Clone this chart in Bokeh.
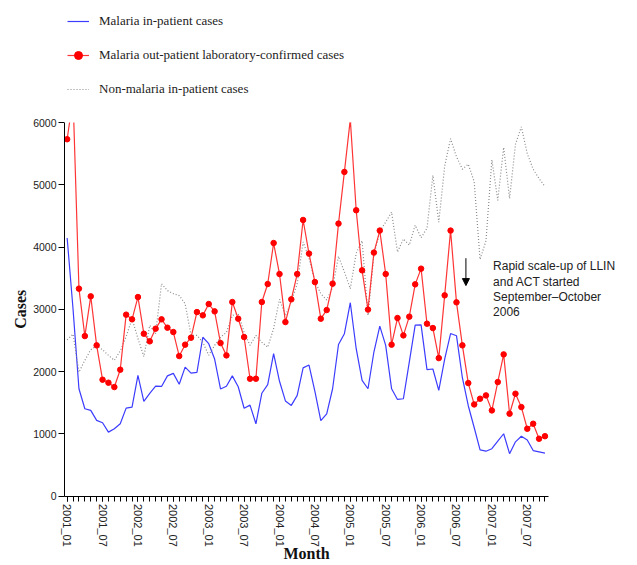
import math
from bokeh.plotting import figure
from bokeh.models import (Range1d, FixedTicker, Legend, LegendItem, Arrow,
                          NormalHead, Label, BoxAnnotation)
from bokeh.embed import file_html
from bokeh.resources import INLINE

# Month categories, 2001_01 .. 2007_10
months = [f"{y}_{m:02d}" for y in range(2001, 2008) for m in range(1, 13)][:82]

# Malaria in-patient cases
inpatient = [
    4145, 3000, 1723, 1401, 1375, 1214, 1176, 1026, 1080, 1160,
    1412, 1428, 1937, 1519, 1650, 1765, 1760, 1930, 1970, 1795,
    2071, 1975, 1985, 2550, 2447, 2200, 1720, 1763, 1930, 1755,
    1410, 1460, 1160, 1650, 1790, 2286, 1843, 1527, 1455, 1616,
    2058, 2104, 1680, 1210, 1321, 1723, 2434, 2607, 3105, 2366,
    1857, 1723, 2313, 2730, 2420, 1723, 1551, 1562, 2152, 2745,
    2750, 2030, 2040, 1696, 2200, 2610, 2575, 1900, 1450, 1100,
    740, 720, 760, 880, 1000, 680, 870, 960, 900, 730,
    710, 690,
]

# Malaria out-patient laboratory-confirmed cases
outpatient = [
    5731, 6400, 3331, 2569, 3207, 2420, 1868, 1820, 1750, 2029,
    2913, 2838, 3196, 2607, 2484, 2688, 2838, 2704, 2634, 2248,
    2431, 2543, 2955, 2902, 3084, 2966, 2457, 2259, 3116, 2848,
    2553, 1884, 1884, 3116, 3405, 4064, 3566, 2794, 3159, 3566,
    4434, 3894, 3437, 2848, 2987, 3411, 4376, 5206, 6050, 4590,
    3625, 2994, 3910, 4264, 3566, 2431, 2859, 2580, 2881, 3400,
    3652, 2768, 2698, 2215, 3223, 4264, 3111, 2420, 1814, 1471,
    1563, 1616, 1375, 1830, 2275, 1322, 1643, 1428, 1080, 1161,
    920, 961,
]

# Non-malaria in-patient cases
nonmalaria = [
    2510, 2600, 1990, 2180, 2350, 2410, 2350, 2260, 2180, 2330,
    2560, 2850, 2530, 2240, 2740, 2610, 3410, 3300, 3250, 3220,
    3090, 2580, 2580, 2470, 2260, 2420, 2550, 2630, 2900, 2930,
    2630, 2420, 2580, 2470, 2390, 2690, 3160, 2900, 3120, 3410,
    4080, 3820, 3450, 3250, 3150, 3350, 3850, 3600, 3330, 3900,
    4100, 2900, 3870, 4250, 4400, 4560, 3920, 4130, 4030, 4350,
    4150, 4300, 5150, 4400, 5300, 5740, 5450, 5250, 5330, 5050,
    3800, 4100, 5400, 4750, 5600, 4780, 5650, 5930, 5500, 5250,
    5100, 4970,
]

y_ticks = [0, 1000, 2000, 3000, 4000, 5000, 6000]
y_max = 6000

x = list(range(len(months)))

# Geometry of the plotting area (pixels) inside the 637x565 canvas
W, H = 637, 565
ax_left, ax_right = 64, 548        # x-axis extent
ax_top, ax_bottom = 122, 495.5     # y-axis extent (6000 .. 0)
x_lo, x_hi = -0.45, len(months) - 0.4
px_per_month = (ax_right - ax_left) / (x_hi - x_lo)
px_per_unit = (ax_bottom - ax_top) / y_max

# The frame spans the whole canvas; axes are pinned at the data origin
x_range = Range1d(x_lo - ax_left / px_per_month, x_lo + (W - ax_left) / px_per_month)
y_range = Range1d(-(H - ax_bottom) / px_per_unit, ax_bottom / px_per_unit)

p = figure(width=W, height=H, output_backend="svg", toolbar_location=None,
           x_range=x_range, y_range=y_range,
           min_border=0, min_border_left=0, min_border_right=0,
           min_border_top=0, min_border_bottom=0)
p.outline_line_color = None
p.xgrid.visible = False
p.ygrid.visible = False
p.background_fill_color = "white"
p.border_fill_color = "white"

r_blue = p.line(x, inpatient, line_color="#3c3cff", line_width=1.2)
r_grey = p.line(x, nonmalaria, line_color="#8a8a8a", line_width=1.2, line_dash="1 2")
r_red = p.line(x, outpatient, line_color="#ff3535", line_width=1.2)
r_dot = p.scatter(x, outpatient, size=5.5, fill_color="#ff0000", line_color="#ff0000",
                  line_width=1)

# Values above the top of the value axis are cut away
p.add_layout(BoxAnnotation(bottom=y_max, left=x_lo, fill_color="white", fill_alpha=1.0,
                           line_alpha=0))

label_font = "Liberation Sans"
title_font = "Liberation Serif"

xa = p.xaxis[0]
xa.fixed_location = 0
xa.bounds = (x_lo, x_hi)
xa.ticker = FixedTicker(ticks=x[::6], minor_ticks=x)
xa.major_label_overrides = {i: months[i] for i in x[::6]}
xa.major_label_orientation = "vertical"
xa.major_label_text_font = label_font
xa.major_label_text_font_size = "11px"
xa.major_label_text_color = "#222222"
xa.major_label_standoff = 3
xa.major_tick_in = 0
xa.major_tick_out = 5
xa.minor_tick_in = 0
xa.minor_tick_out = 5
xa.axis_line_color = "black"
xa.major_tick_line_color = "black"
xa.minor_tick_line_color = "black"

ya = p.yaxis[0]
ya.fixed_location = x_lo
ya.bounds = (0, y_max)
ya.ticker = FixedTicker(ticks=y_ticks, minor_ticks=[])
ya.major_label_text_font = label_font
ya.major_label_text_font_size = "10.5px"
ya.major_label_text_color = "#222222"
ya.major_label_standoff = 2
ya.major_tick_in = 0
ya.major_tick_out = 6
ya.axis_line_color = "black"
ya.major_tick_line_color = "black"

# Axis titles
p.add_layout(Label(x=(ax_left + ax_right) / 2, y=H - 553, x_units="screen", y_units="screen",
                   text="Month", text_font=title_font, text_font_style="bold",
                   text_font_size="16px", text_color="#111111",
                   text_align="center", text_baseline="middle"))
p.add_layout(Label(x=20, y=H - (ax_top + ax_bottom) / 2, x_units="screen", y_units="screen",
                   text="Cases", angle=math.pi / 2, text_font=title_font,
                   text_font_style="bold", text_font_size="16px", text_color="#111111",
                   text_align="center", text_baseline="middle"))

# Intervention marker (Sept-Oct 2006)
p.add_layout(Arrow(end=NormalHead(size=7, fill_color="black", line_color="black"),
                   x_start=67.6, y_start=3820, x_end=67.6, y_end=3380,
                   line_color="black", line_width=1))
p.add_layout(Label(x=72.2, y=3800,
                   text="Rapid scale-up of LLIN\nand ACT started\nSeptember\u2013October\n2006",
                   text_font=label_font, text_font_size="12px", text_color="#222222",
                   text_baseline="top", text_align="left", text_line_height=1.09))

legend = Legend(items=[
    LegendItem(label="Malaria in-patient cases", renderers=[r_blue]),
    LegendItem(label="Malaria out-patient laboratory-confirmed cases", renderers=[r_red, r_dot]),
    LegendItem(label="Non-malaria in-patient cases", renderers=[r_grey]),
], location=(67, H - 98.7))
legend.glyph_width = 22
legend.glyph_height = 20
legend.label_height = 20
legend.spacing = 14
legend.padding = 0
legend.margin = 0
legend.label_standoff = 10
legend.label_text_font = title_font
legend.label_text_font_size = "13px"
legend.label_text_color = "#222222"
legend.border_line_color = None
legend.background_fill_alpha = 0
p.add_layout(legend, "center")

open("out.html", "w").write(file_html(p, INLINE))
